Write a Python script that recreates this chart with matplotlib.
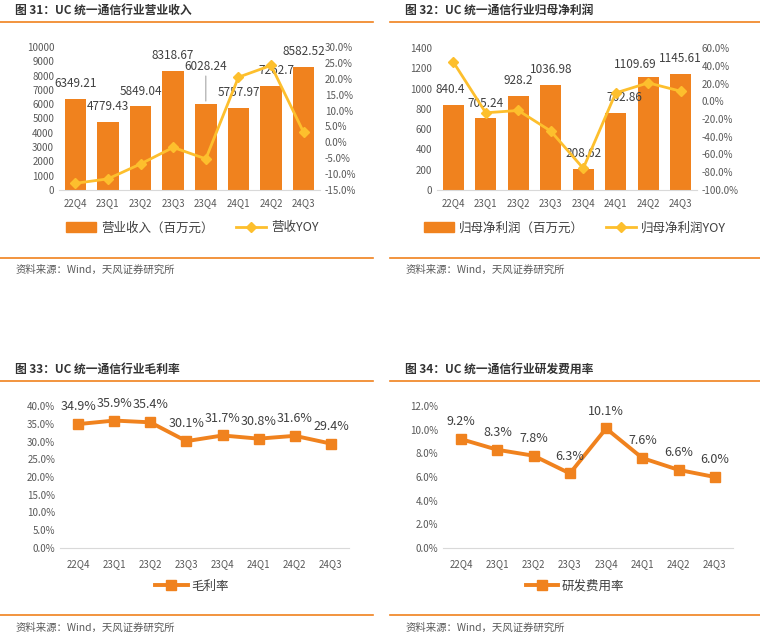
import matplotlib.pyplot as plt
import numpy as np
from matplotlib.lines import Line2D
from matplotlib.patches import Patch

plt.rcParams['font.family'] = ['Noto Sans CJK SC', 'DejaVu Sans']

quarters = ['22Q4', '23Q1', '23Q2', '23Q3', '23Q4', '24Q1', '24Q2', '24Q3']
revenue = [6349.21, 4779.43, 5849.04, 8318.67, 6028.24, 5757.97, 7262.7, 8582.52]
revenue_yoy = [-12.9, -11.5, -6.8, -1.6, -5.2, 20.5, 24.2, 3.1]
profit = [840.4, 705.24, 928.2, 1036.98, 208.62, 762.86, 1109.69, 1145.61]
profit_yoy = [44.3, -13.0, -10.4, -33.6, -75.6, 9.4, 20.7, 11.3]
gross_margin = [34.9, 35.9, 35.4, 30.1, 31.7, 30.8, 31.6, 29.4]
rd_ratio = [9.2, 8.3, 7.8, 6.3, 10.1, 7.6, 6.6, 6.0]

titles = ['图 31：UC 统一通信行业营业收入', '图 32：UC 统一通信行业归母净利润',
          '图 33：UC 统一通信行业毛利率', '图 34：UC 统一通信行业研发费用率']
source = '资料来源：Wind，天风证券研究所'

ORANGE = '#F0821E'
YELLOW = '#FDBF2D'
GRAY = '#595959'
TXT = '#404040'

W, H = 760, 639
fig = plt.figure(figsize=(7.6, 6.39), dpi=100)


def box(x0, y0, x1, y1):
    # pixel box -> figure fraction
    return [x0 / W, 1 - y1 / H, (x1 - x0) / W, (y1 - y0) / H]


def frame(x0, x1, ytitle, yline, ybot, ysrc, title):
    fig.text((x0 + 15) / W, 1 - ytitle / H, title, fontsize=8.5, fontweight='bold',
             color='#333333', va='center')
    fig.add_artist(Line2D([x0 / W, x1 / W], [1 - yline / H] * 2, color=ORANGE, lw=1.2))
    fig.add_artist(Line2D([x0 / W, x1 / W], [1 - ybot / H] * 2, color=ORANGE, lw=1.2))
    fig.text((x0 + 16) / W, 1 - ysrc / H, source, fontsize=7.5, color=GRAY, va='center')


def style(ax):
    for s in ['top', 'right', 'left']:
        ax.spines[s].set_visible(False)
    ax.spines['bottom'].set_color('#D9D9D9')
    ax.tick_params(axis='both', length=0, labelsize=7, colors=GRAY)


frame(0, 373, 10, 22, 258, 270, titles[0])
frame(390, 760, 10, 22, 258, 270, titles[1])
frame(0, 373, 369, 381, 615, 628, titles[2])
frame(390, 760, 369, 381, 615, 628, titles[3])

x = np.arange(len(quarters))


def bar_chart(rect, vals, yoy, ylim, ystep, ylim2, ystep2, bar_name, line_name, legx, offsets, leader=()):
    ax = fig.add_axes(rect)
    ax.bar(x, vals, width=0.66, color=ORANGE, zorder=2)
    ax.set_xlim(-0.5, len(x) - 0.5)
    ax.set_ylim(0, ylim)
    ax.set_yticks(np.arange(0, ylim + 1, ystep))
    ax.set_xticks(x, quarters)
    style(ax)
    ax.tick_params(axis='x', pad=6)
    for i, v in enumerate(vals):
        dx, dy = offsets.get(i, (0, 11))
        if i in leader:
            ax.annotate(f'{v:g}', (i, v), xytext=(dx, dy), textcoords='offset points',
                        ha='center', va='bottom', fontsize=8.5, color=TXT,
                        arrowprops=dict(arrowstyle='-', color='#A6A6A6', lw=0.8,
                                        shrinkA=0, shrinkB=2))
        else:
            ax.annotate(f'{v:g}', (i, v), xytext=(dx, dy), textcoords='offset points',
                        ha='center', va='center', fontsize=8.5, color=TXT, zorder=5)
    ax2 = ax.twinx()
    ax2.plot(x, yoy, color=YELLOW, lw=2, marker='D', ms=5, zorder=3)
    ax2.set_ylim(ylim2[0], ylim2[1])
    ax2.set_yticks(np.arange(ylim2[0], ylim2[1] + 0.01, ystep2))
    ax2.yaxis.set_major_formatter(plt.FuncFormatter(lambda v, p: f'{v:.1f}%'))
    style(ax2)
    ax2.spines['bottom'].set_visible(False)
    handles = [Patch(color=ORANGE), Line2D([], [], color=YELLOW, lw=2, marker='D', ms=5)]
    fig.legend(handles, [bar_name, line_name], loc='center', bbox_to_anchor=(legx / W, 1 - 228 / H),
               ncol=2, frameon=False, fontsize=9, handlelength=2.4, handleheight=0.8,
               handletextpad=0.4, columnspacing=1.8, labelcolor=TXT)


bar_chart(box(59, 47, 320, 190), revenue, revenue_yoy, 10000, 1000, (-15, 30), 5,
          '营业收入（百万元）', '营收YOY', 192, {4: (0, 22), 6: (4, 11)}, leader=(4,))
bar_chart(box(437, 48, 697, 190), profit, profit_yoy, 1400, 200, (-100, 60), 20,
          '归母净利润（百万元）', '归母净利润YOY', 575,
          {0: (-2, 11), 5: (6, 11), 6: (-9, 9)})


def line_chart(rect, vals, ylim, ystep, name, legx):
    ax = fig.add_axes(rect)
    ax.plot(x, vals, color=ORANGE, lw=2.8, marker='s', ms=7, zorder=3)
    ax.set_xlim(-0.5, len(x) - 0.5)
    ax.set_ylim(0, ylim)
    ax.set_yticks(np.arange(0, ylim + 0.01, ystep))
    ax.yaxis.set_major_formatter(plt.FuncFormatter(lambda v, p: f'{v:.1f}%'))
    ax.set_xticks(x, quarters)
    style(ax)
    ax.tick_params(axis='x', pad=8)
    for i, v in enumerate(vals):
        ax.annotate(f'{v:.1f}%', (i, v), xytext=(0, 12.5), textcoords='offset points',
                    ha='center', va='center', fontsize=9, color=TXT)
    h = Line2D([], [], color=ORANGE, lw=2.8, marker='s', ms=7)
    fig.legend([h], [name], loc='center', bbox_to_anchor=(legx / W, 1 - 586 / H),
               frameon=False, fontsize=9, handlelength=2.6, handletextpad=0.3, labelcolor=TXT)


line_chart(box(60, 406, 349, 548), gross_margin, 40, 5, '毛利率', 192)
line_chart(box(443, 406, 733, 548), rd_ratio, 12, 2, '研发费用率', 575)

fig.savefig('out.png', dpi=100, facecolor='white')
